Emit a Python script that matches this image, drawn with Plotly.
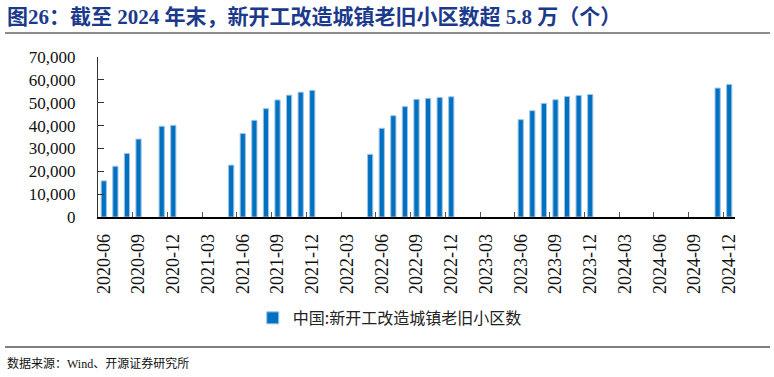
import plotly.graph_objects as go

# Monthly categories 2020-06 .. 2024-12
months = []
for y in range(2020, 2025):
    for m in range(1, 13):
        if y == 2020 and m < 6:
            continue
        months.append(f"{y}-{m:02d}")

# Values (None = no data)
values_by_month = {
    "2020-06": 15800, "2020-07": 22200, "2020-08": 27800, "2020-09": 34100,
    "2020-11": 39700, "2020-12": 40100,
    "2021-05": 22700, "2021-06": 36500, "2021-07": 42300, "2021-08": 47400,
    "2021-09": 51200, "2021-10": 53300, "2021-11": 54600, "2021-12": 55400,
    "2022-05": 27400, "2022-06": 38800, "2022-07": 44300, "2022-08": 48300,
    "2022-09": 51500, "2022-10": 51900, "2022-11": 52300, "2022-12": 52600,
    "2023-06": 42600, "2023-07": 46500, "2023-08": 49700, "2023-09": 51300,
    "2023-10": 52700, "2023-11": 53200, "2023-12": 53600,
    "2024-11": 56400, "2024-12": 58000,
}
values = [values_by_month.get(m) for m in months]
tick_months = months[::3]

series_name = "中国:新开工改造城镇老旧小区数"
title_text = "图26：截至 2024 年末，新开工改造城镇老旧小区数超 5.8 万（个）"
source_text = "数据来源：Wind、开源证券研究所"

serif = "Liberation Serif, Times New Roman, Noto Sans CJK SC"

fig = go.Figure()
fig.add_trace(go.Bar(
    x=months, y=values, name=series_name,
    marker=dict(color="#0070C0", line=dict(color="#9DC3E6", width=1)),
))

fig.update_layout(
    width=774, height=377,
    margin=dict(l=98, r=39, t=57, b=160),
    paper_bgcolor="white", plot_bgcolor="white",
    bargap=0.55,
    showlegend=True,
    legend=dict(orientation="h", x=0.458, y=-0.631, xanchor="center", yanchor="middle",
                font=dict(family="Noto Sans CJK SC", size=16, color="#222"),
                itemwidth=30),
    font=dict(family=serif, color="#111"),
)
fig.update_xaxes(
    type="category", categoryorder="array", categoryarray=months,
    range=[-0.5, len(months) - 0.5],
    tickmode="array", tickvals=tick_months, ticktext=tick_months,
    tickson="boundaries", ticks="inside", ticklen=5, tickcolor="#555",
    tickangle=-90, tickfont=dict(family=serif, size=18, color="#111"),
    ticklabelstandoff=8,
    showline=True, linecolor="black", linewidth=1.5, showgrid=False,
)
fig.update_yaxes(
    range=[0, 70000], dtick=10000, tickformat=",",
    ticks="inside", ticklen=6, tickcolor="#333",
    tickfont=dict(family=serif, size=17, color="#111"),
    ticklabelstandoff=18,
    showline=True, linecolor="#333", linewidth=1, showgrid=False, zeroline=False,
)

fig.add_annotation(text=title_text, xref="paper", yref="paper", x=-0.146, y=1.25,
                   xanchor="left", yanchor="middle", showarrow=False,
                   font=dict(family=serif, size=21, color="#1C3A8C", weight="bold"))
fig.add_annotation(text=source_text, xref="paper", yref="paper", x=-0.146, y=-0.9125,
                   xanchor="left", yanchor="middle", showarrow=False,
                   font=dict(family=serif, size=12, color="#111"))
fig.add_shape(type="line", xref="paper", yref="paper", x0=-0.146, x1=1.055, y0=1.15, y1=1.15,
              line=dict(color="#666", width=1.5))
fig.add_shape(type="line", xref="paper", yref="paper", x0=-0.146, x1=1.055, y0=-0.8125, y1=-0.8125,
              line=dict(color="black", width=1.2))

fig.write_html("out.html")
